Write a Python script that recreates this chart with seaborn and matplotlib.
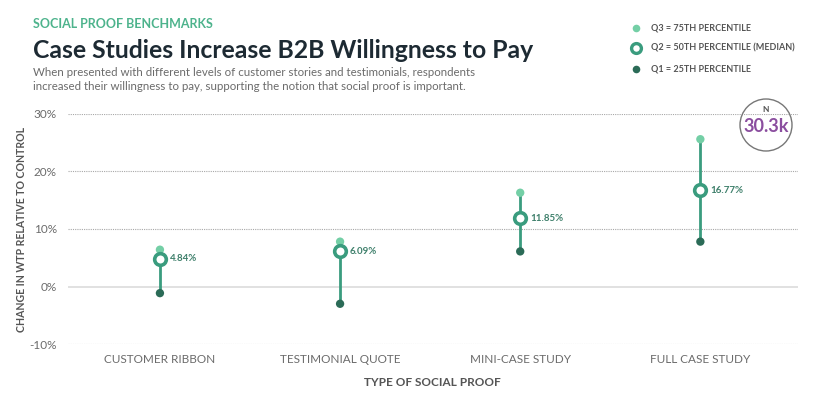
import matplotlib

matplotlib.use("Agg")
import matplotlib.pyplot as plt
import pandas as pd
import seaborn as sns
from matplotlib.patches import Circle

categories = ["CUSTOMER RIBBON", "TESTIMONIAL QUOTE", "MINI-CASE STUDY", "FULL CASE STUDY"]
q3_values = [6.4, 7.8, 16.3, 25.6]
median_values = [4.84, 6.09, 11.85, 16.77]
q1_values = [-1.15, -3.0, 6.1, 7.8]
y_ticks = [-10, 0, 10, 20, 30]

LIGHT = "#74cfa6"
MID = "#3a9c7e"
DARK = "#2b6b57"
GRAY = "#6b6b6b"

sns.set_theme(style="white")
plt.rcParams["font.family"] = ["Lato", "DejaVu Sans"]

df = pd.DataFrame(
    {"category": categories, "q3": q3_values, "median": median_values, "q1": q1_values}
)

fig = plt.figure(figsize=(8.3, 4.01), dpi=100)
ax = fig.add_axes([0.082, 0.142, 0.879, 0.574])

# gridlines
for t in y_ticks:
    if t == 0:
        ax.axhline(t, color="#dcdcdc", lw=1.2, zorder=0)
    else:
        ax.axhline(t, color="#a8a8a8", lw=0.8, ls=(0, (1, 1)), zorder=0)

xpos = list(range(len(categories)))
ax.vlines(xpos, df["q1"], df["q3"], color=MID, lw=2, zorder=1)
sns.scatterplot(data=df, x="category", y="q3", color=LIGHT, s=36, edgecolor="none",
                ax=ax, zorder=2, clip_on=False)
sns.scatterplot(data=df, x="category", y="q1", color=DARK, s=36, edgecolor="none",
                ax=ax, zorder=2, clip_on=False)
sns.scatterplot(data=df, x="category", y="median", color="white", s=70, edgecolor=MID,
                linewidth=2.6, ax=ax, zorder=3, clip_on=False)

for x, m in zip(xpos, median_values):
    ax.annotate(f"{m:.2f}%", (x, m), xytext=(7, 0), textcoords="offset points",
                ha="left", va="center", fontsize=7, color="#3d7f6a", fontweight="bold")

ax.set_xlim(-0.51, 3.54)
ax.set_ylim(-10, 30)
ax.set_yticks(y_ticks)
ax.set_yticklabels([f"{t}%" for t in y_ticks], color=GRAY, fontsize=8.5)
ax.set_xticks(xpos)
ax.set_xticklabels(categories, color=GRAY, fontsize=8.5)
ax.tick_params(axis="y", length=0, pad=8)
ax.tick_params(axis="x", length=0, pad=7)
for s in ax.spines.values():
    s.set_visible(False)
ax.set_xlabel("TYPE OF SOCIAL PROOF", fontsize=8.5, fontweight="bold", color="#555555",
              labelpad=9)
ax.set_ylabel("CHANGE IN WTP RELATIVE TO CONTROL", fontsize=7.6, fontweight="bold",
              color="#555555", labelpad=2)

# header texts
fig.text(33 / 830, 1 - 24 / 401, "SOCIAL PROOF BENCHMARKS", fontsize=9, fontweight="bold",
         color="#4db38c", va="center")
fig.text(33 / 830, 1 - 50 / 401, "Case Studies Increase B2B Willingness to Pay", fontsize=17.8,
         fontweight="bold", color="#1d2a33", va="center")
fig.text(33 / 830, 1 - 73 / 401,
         "When presented with different levels of customer stories and testimonials, respondents",
         fontsize=8.3, color=GRAY, va="center")
fig.text(33 / 830, 1 - 87 / 401,
         "increased their willingness to pay, supporting the notion that social proof is important.",
         fontsize=8.3, color=GRAY, va="center")

# legend
legend_items = [
    (28, "Q3 = 75TH PERCENTILE", LIGHT, 30, "none", 0),
    (48, "Q2 = 50TH PERCENTILE (MEDIAN)", "white", 50, MID, 2.4),
    (69, "Q1 = 25TH PERCENTILE", DARK, 30, "none", 0),
]
for y, label, fc, size, ec, lw in legend_items:
    fig.text(651 / 830, 1 - y / 401, label, fontsize=6.5, fontweight="bold",
             color="#555555", va="center")
    fig.add_artist(plt.Line2D([636 / 830], [1 - y / 401], marker="o", ls="none",
                              markersize=size ** 0.5, markerfacecolor=fc,
                              markeredgecolor=ec, markeredgewidth=lw,
                              transform=fig.transFigure))

# N badge (drawn in inches so it stays round)
fig.add_artist(Circle((7.66, 4.01 - 1.25), 0.26, transform=fig.dpi_scale_trans,
                      fill=False, ec="#777777", lw=1))
fig.text(766 / 830, 1 - 109 / 401, "N", fontsize=6, color="#555555", ha="center",
         va="center", fontweight="bold")
fig.text(766 / 830, 1 - 127 / 401, "30.3k", fontsize=13, color="#8b4e9f", ha="center",
         va="center", fontweight="bold")

fig.savefig("out.png", dpi=100)
